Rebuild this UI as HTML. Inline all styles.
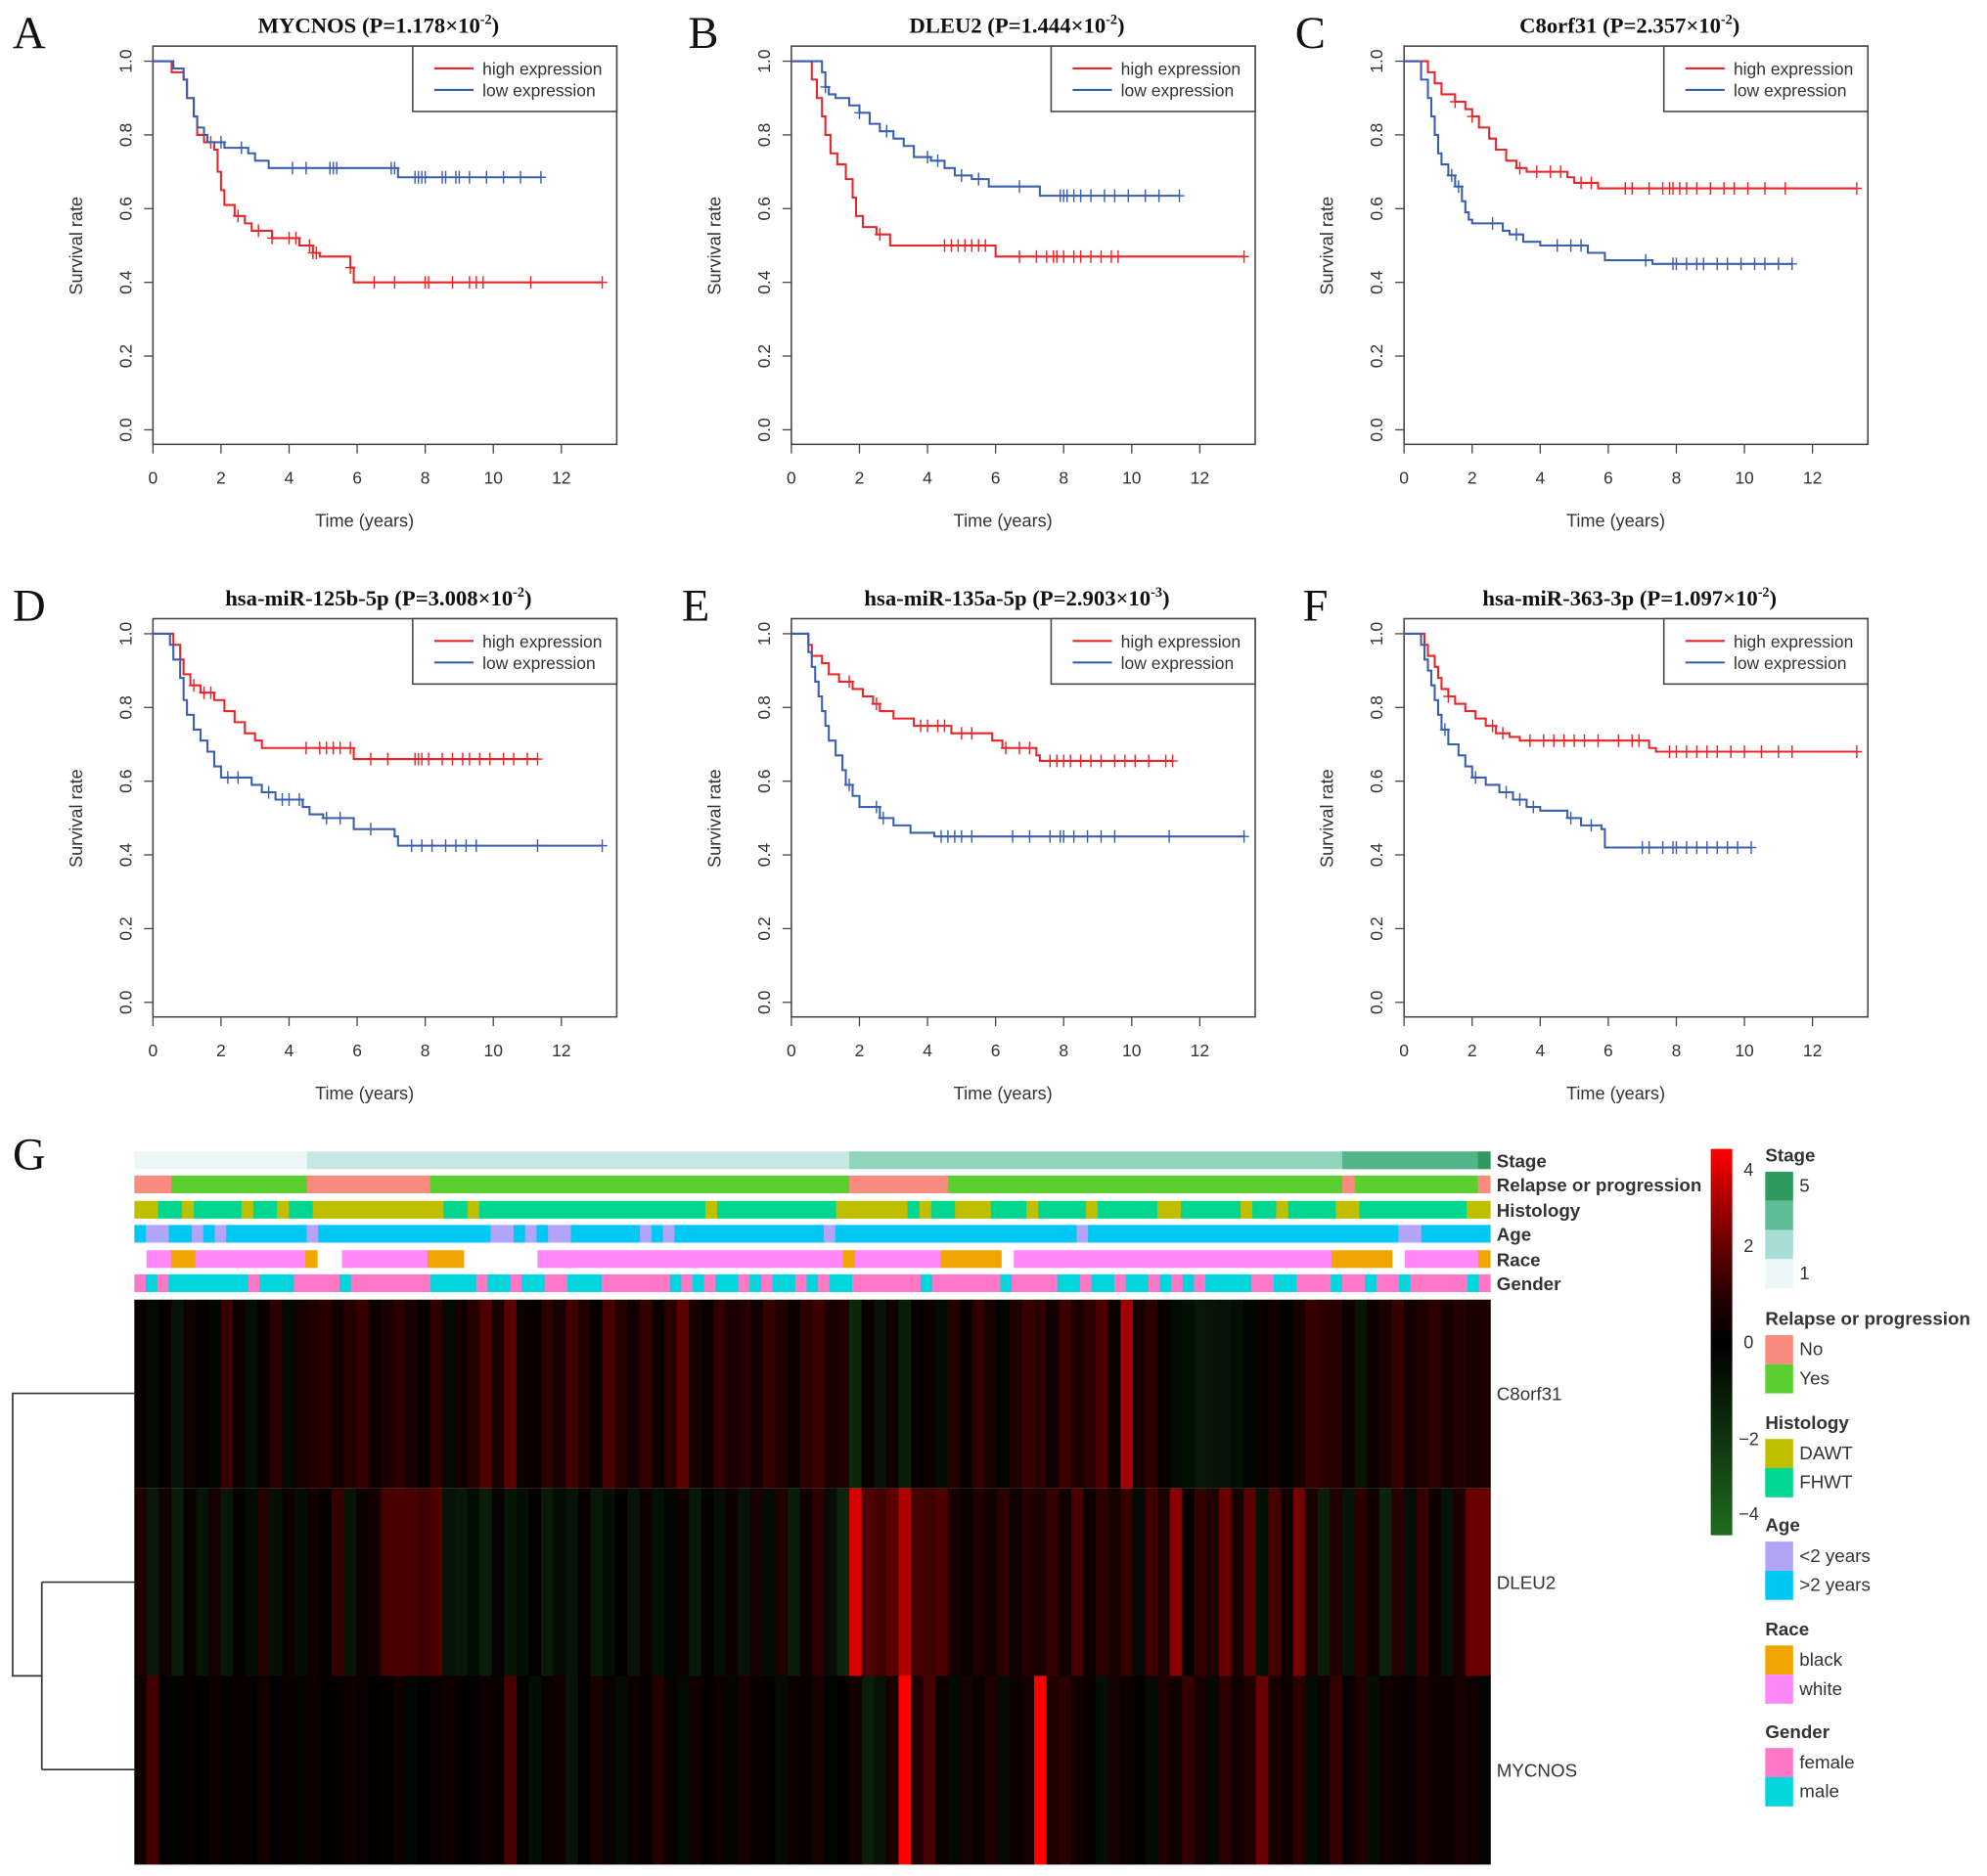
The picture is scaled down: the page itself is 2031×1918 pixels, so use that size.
<!DOCTYPE html>
<html><head><meta charset="utf-8"><style>
html,body{margin:0;padding:0;background:#fff}
svg{display:block}
.t{font-family:"Liberation Sans",sans-serif;fill:#333}
.s{font-family:"Liberation Serif",serif;fill:#111}
</style></head><body>
<svg id="fig" width="2031" height="1918" viewBox="0 0 1568 1481" preserveAspectRatio="none" xmlns="http://www.w3.org/2000/svg"></svg>
<script>
// ---------- KM data ----------
const titles=["MYCNOS","DLEU2","C8orf31","hsa-miR-125b-5p","hsa-miR-135a-5p","hsa-miR-363-3p"];
const pMant=["1.178","1.444","2.357","3.008","2.903","1.097"];
const pExp=["-2","-2","-2","-2","-3","-2"];
const letters=["A","B","C","D","E","F"];
const xTicks=[0,2,4,6,8,10,12];
const yTicks=[0,0.2,0.4,0.6,0.8,1.0];
const yTickLabels=["0.0","0.2","0.4","0.6","0.8","1.0"];
const hiT=[[0.55,0.9,1.0,1.2,1.3,1.5,1.8,1.9,2.0,2.1,2.4,2.7,2.9,3.5,4.3,4.7,4.9,5.8,5.9],
[0.5,0.6,0.75,0.9,1.0,1.15,1.35,1.6,1.8,1.9,2.1,2.5,2.9,6.0],
[0.6,0.7,0.9,1.1,1.5,1.8,2.0,2.2,2.5,2.7,3.0,3.3,3.6,4.8,5.0,5.7],
[0.6,0.8,0.9,1.1,1.4,1.8,2.1,2.4,2.7,3.0,3.2,5.9],
[0.5,0.6,0.9,1.1,1.4,1.8,2.1,2.4,2.6,3.0,3.6,4.7,5.9,6.2,7.2,7.3],
[0.6,0.7,0.9,1.0,1.1,1.3,1.5,1.8,2.1,2.4,2.7,3.1,3.4,7.2,7.4]];
const hiS=[[0.97,0.95,0.9,0.85,0.8,0.78,0.76,0.7,0.65,0.61,0.58,0.56,0.54,0.52,0.5,0.48,0.47,0.44,0.40],
[1.0,0.95,0.9,0.85,0.8,0.75,0.72,0.68,0.63,0.58,0.55,0.53,0.50,0.47],
[1.0,0.97,0.94,0.91,0.89,0.87,0.85,0.82,0.79,0.76,0.73,0.71,0.70,0.685,0.67,0.655],
[0.97,0.93,0.89,0.86,0.84,0.82,0.79,0.76,0.73,0.71,0.69,0.66],
[0.97,0.94,0.92,0.89,0.87,0.85,0.83,0.81,0.79,0.77,0.75,0.73,0.71,0.69,0.67,0.655],
[0.97,0.94,0.91,0.88,0.85,0.83,0.81,0.79,0.77,0.75,0.73,0.72,0.71,0.69,0.68]];
const hiEnd=[13.2,13.3,13.3,11.3,11.2,13.3];
const hiC=[[1.7,2.5,3.1,3.5,4.0,4.2,4.6,4.7,4.8,5.8,6.5,7.1,8,8.1,8.8,9.3,9.5,9.7,11.1,13.2],
[2.6,4.5,4.7,4.9,5.1,5.3,5.5,5.7,6.7,7.2,7.5,7.7,7.8,8,8.3,8.5,8.8,9.1,9.4,9.6,13.3],
[1.5,2.0,3.4,3.9,4.3,4.6,5.2,5.5,6.5,6.7,7.2,7.6,7.8,7.9,8.1,8.3,8.6,9.0,9.4,9.7,10.1,10.6,11.2,13.3],
[1.2,1.5,1.7,4.5,4.9,5.1,5.3,5.5,5.8,6.4,6.9,7.7,7.8,7.9,8.1,8.5,8.8,9.1,9.3,9.6,9.9,10.3,10.6,11.0,11.3],
[1.7,2.5,3.8,4.0,4.3,4.5,5.0,5.3,6.3,6.7,7.0,7.6,7.8,8.0,8.2,8.5,8.8,9.1,9.5,9.8,10.1,10.5,11.0,11.2],
[1.3,2.6,2.9,3.7,4.1,4.4,4.7,5.0,5.3,5.7,6.3,6.7,6.9,7.8,8.0,8.3,8.6,8.9,9.2,9.6,10.0,10.5,11.0,11.4,13.3]];
const loT=[[0.6,0.9,1.0,1.2,1.3,1.5,1.6,2.1,2.8,3.0,3.4,7.2],
[0.9,1.0,1.1,1.3,1.7,2.0,2.3,2.6,3.0,3.3,3.6,4.1,4.5,4.8,5.3,5.8,7.3],
[0.5,0.7,0.8,0.9,1.0,1.1,1.3,1.5,1.7,1.8,1.9,2.0,2.9,3.1,3.5,4.0,5.4,5.9,7.3,7.4],
[0.5,0.6,0.8,0.9,1.0,1.2,1.4,1.6,1.8,2.0,2.9,3.2,3.6,4.4,4.6,5.0,5.9,7.1,7.2],
[0.5,0.6,0.7,0.8,0.9,1.0,1.1,1.3,1.5,1.6,1.8,2.0,2.6,3.0,3.5,4.2],
[0.5,0.6,0.7,0.8,0.9,1.0,1.1,1.3,1.6,1.8,2.0,2.4,2.8,3.2,3.6,4.0,4.8,5.2,5.8,5.9]];
const loS=[[0.98,0.95,0.9,0.85,0.82,0.8,0.78,0.765,0.75,0.73,0.71,0.685],
[0.97,0.93,0.91,0.9,0.88,0.86,0.83,0.81,0.79,0.77,0.74,0.73,0.71,0.69,0.68,0.66,0.635],
[0.95,0.9,0.85,0.8,0.75,0.72,0.69,0.66,0.62,0.59,0.57,0.56,0.54,0.53,0.51,0.50,0.48,0.46,0.45,0.45],
[0.97,0.93,0.88,0.82,0.78,0.74,0.71,0.68,0.64,0.61,0.59,0.57,0.55,0.53,0.51,0.50,0.47,0.45,0.425],
[0.95,0.91,0.87,0.83,0.79,0.75,0.71,0.67,0.63,0.59,0.56,0.53,0.50,0.48,0.46,0.45],
[0.97,0.93,0.90,0.86,0.82,0.78,0.74,0.70,0.67,0.64,0.61,0.59,0.57,0.55,0.53,0.52,0.50,0.48,0.47,0.42]];
const loEnd=[11.4,11.4,11.4,13.2,13.3,10.2];
const loC=[[2.0,2.6,4.1,4.5,5.2,5.3,5.4,7.0,7.1,7.7,7.8,7.9,8.0,8.5,8.6,8.9,9.0,9.3,9.8,10.3,10.8,11.4],
[1.0,2.0,2.8,4.0,4.3,5.0,5.5,6.7,7.9,8.0,8.1,8.3,8.5,8.8,9.2,9.5,9.9,10.4,10.8,11.4],
[1.4,1.6,2.6,3.3,4.5,4.9,5.2,7.1,7.9,8.0,8.3,8.6,8.8,9.2,9.5,9.9,10.3,10.6,11.0,11.4],
[2.2,2.5,3.4,3.8,4.0,4.3,5.1,5.5,6.4,7.6,7.9,8.2,8.6,8.9,9.2,9.5,11.3,13.2],
[1.7,2.5,2.7,4.4,4.6,4.8,5.0,5.3,6.5,7.0,7.6,7.9,8.0,8.3,8.7,9.1,9.5,11.1,13.3],
[1.2,2.1,3.0,3.4,3.8,4.9,5.5,7.0,7.2,7.6,7.9,8.0,8.3,8.6,8.9,9.2,9.5,9.8,10.2]];
// ---------- heatmap data ----------
const genes=["C8orf31","DLEU2","MYCNOS"];
const heatC8=[0.3,-0.5,0.2,-0.8,0.5,0.2,-0.3,1.2,0.4,-0.6,0.3,1.0,-0.4,0.6,0.8,1.0,0.5,0.9,1.2,0.4,0.7,1.0,0.6,0.3,1.1,-0.5,0.5,0.9,1.6,0.6,1.8,0.4,0.3,1.0,0.6,1.4,0.8,0.3,1.5,0.9,0.5,1.2,0.4,1.0,1.8,0.6,0.3,1.1,0.7,0.9,0.5,1.2,0.8,0.4,1.0,1.3,0.6,0.8,-1.6,0.3,-0.8,0.5,-1.2,0.2,0.4,-0.5,0.9,0.3,1.1,0.6,-0.3,0.8,1.2,1.0,0.5,1.3,0.7,1.0,1.6,0.4,2.8,0.6,1.0,0.3,-0.4,-0.7,-1.0,-0.9,-0.8,-0.6,-0.3,0.3,0.5,-0.2,0.6,1.2,1.0,0.9,0.5,-0.9,0.4,0.7,1.2,0.5,0.8,1.0,0.6,0.9,0.7,0.8];
const heatDLEU2=[0.8,-1.0,0.5,-1.2,0.3,-0.8,0.6,-1.0,0.2,-0.5,0.9,-0.7,0.4,-0.6,0.5,0.2,1.2,-0.9,0.3,0.6,1.5,1.6,1.5,1.4,1.6,-0.8,-1.0,-0.5,-1.2,0.3,-0.9,-0.6,0.2,-1.1,-0.4,-0.8,0.3,-1.0,-0.6,0.2,-0.9,0.4,-0.7,-0.3,0.5,-1.0,0.2,-0.6,0.4,-0.8,0.6,-0.5,0.8,-1.2,0.5,1.0,-0.6,-1.5,3.5,1.6,1.4,1.8,3.0,1.5,1.4,1.6,0.6,0.3,0.8,0.5,1.0,0.4,0.9,0.7,1.2,0.5,1.5,0.3,1.0,0.6,1.2,-0.4,1.4,0.7,2.5,0.3,1.2,0.8,2.0,0.6,1.8,-0.7,1.5,0.4,2.2,0.6,-1.2,0.8,-0.9,1.0,0.5,-1.4,0.9,-0.6,1.2,0.4,-0.8,0.7,2.0,2.0];
const heatMYCNOS=[0.5,1.4,0.2,-0.2,0.3,0.1,0.4,-0.1,0.3,0.2,0.5,0.1,0.3,-0.2,0.4,0.2,0.1,0.5,0.3,0.0,0.2,0.4,-0.3,0.1,0.3,0.5,0.2,0.1,0.4,0.3,1.5,0.2,-0.6,0.3,0.5,-0.8,0.2,0.6,0.3,-0.5,0.4,0.2,0.9,0.3,-0.4,0.5,0.2,0.4,-0.3,0.6,0.3,0.2,-0.5,0.4,0.3,0.6,-0.3,0.2,0.5,-1.2,-0.8,0.6,4.5,0.8,1.5,0.4,-0.4,0.6,0.3,0.8,-0.5,0.4,0.6,4.5,0.8,1.0,0.5,0.3,-0.6,0.6,0.4,0.2,-0.5,0.8,0.5,1.2,0.6,-0.4,1.0,0.5,0.8,2.0,0.6,0.4,1.0,-0.5,0.5,1.2,0.3,0.8,-0.6,0.5,0.4,0.3,0.7,0.5,0.4,0.6,0.5,-0.3];
const annNames=["Stage","Relapse or progression","Histology","Age","Race","Gender"];
const annStage=[["1",14],["2",44],["3",40],["4",11],["5",1]];
const annRelapse=[["No",3],["Yes",11],["No",10],["Yes",34],["No",8],["Yes",32],["No",1],["Yes",10],["No",1]];
const annHist=[["D",2],["F",2],["D",1],["F",4],["D",1],["F",2],["D",1],["F",2],["D",11],["F",2],["D",1],["F",19],["D",1],["F",10],["D",6],["F",1],["D",1],["F",2],["D",3],["F",3],["D",1],["F",4],["D",1],["F",5],["D",2],["F",5],["D",1],["F",2],["D",1],["F",4],["D",2],["F",9],["D",2]];
const annAge=[["G",1],["L",2],["G",2],["L",1],["G",1],["L",1],["G",7],["L",1],["G",15],["L",2],["G",1],["L",1],["G",1],["L",2],["G",6],["L",1],["G",1],["L",1],["G",13],["L",1],["G",21],["L",1],["G",27],["L",2],["G",6]];
const annRace=[["N",1],["W",2],["B",2],["W",9],["B",1],["N",2],["W",7],["B",3],["N",6],["W",25],["B",1],["W",7],["B",5],["N",1],["W",26],["B",5],["N",1],["W",6],["B",1]];
const annGender=[["F",1],["M",1],["F",1],["M",7],["F",1],["M",3],["F",4],["M",1],["F",7],["M",4],["F",1],["M",2],["F",1],["M",2],["F",2],["M",3],["F",6],["M",1],["F",1],["M",1],["F",1],["M",2],["F",1],["M",1],["F",1],["M",2],["F",1],["M",1],["F",1],["M",2],["F",6],["M",1],["F",6],["M",1],["F",4],["M",2],["F",1],["M",2],["F",1],["M",2],["F",1],["M",1],["F",1],["M",1],["F",1],["M",4],["F",2],["M",2],["F",3],["M",1],["F",2],["M",1],["F",2],["M",1],["F",5],["M",1],["F",1]];
const colorbarTicks=[4,2,0,-2,-4];

const NS="http://www.w3.org/2000/svg";
const svg=document.getElementById('fig');
function mk(tag,attrs,parent,text){const e=document.createElementNS(NS,tag);for(const k in attrs)e.setAttribute(k,attrs[k]);if(text!==undefined)e.textContent=text;(parent||svg).appendChild(e);return e;}

const RED="#e8262a",BLUE="#3a5fb0";
const colX=[120.7,624.5,1108],rowY=[0,452];
const letterX=[10,543,1022,10,538,1028];
for(let p=0;p<6;p++){
  const ox=colX[p%3],oy=rowY[Math.floor(p/3)];
  const g=mk('g',{});
  
  
  const xs=t=>ox+t*(322.3/12), ys=s=>oy+48.3+(1-s)*291;
  const bx=mk('rect',{x:ox,y:oy+36.4,width:366,height:314.4,fill:'none',stroke:'#444','stroke-width':1.2},g);
  
  const lt=mk('text',{x:letterX[p],y:oy+38,class:'s','font-size':36},g,letters[p]);
  
  const tt=mk('text',{x:ox+178,y:oy+26,class:'s','font-size':17.5,'font-weight':'bold','text-anchor':'middle'},g);
  
  mk('tspan',{},tt,titles[p]+" (P="+pMant[p]+"×10");
  mk('tspan',{dy:-7,'font-size':11},tt,pExp[p]);
  mk('tspan',{dy:7},tt,")");
  xTicks.forEach(v=>{mk('line',{x1:xs(v),x2:xs(v),y1:oy+350.8,y2:oy+358,stroke:'#444'},g);
    const l=mk('text',{x:xs(v),y:oy+382,class:'t','font-size':13.5,'text-anchor':'middle'},g,String(v));
    });
  yTicks.forEach((v,i)=>{mk('line',{x1:ox,x2:ox-7,y1:ys(v),y2:ys(v),stroke:'#444'},g);
    const l=mk('text',{x:ox-17,y:ys(v),class:'t','font-size':13.5,'text-anchor':'middle',transform:`rotate(-90 ${ox-17} ${ys(v)})`},g,yTickLabels[i]);
    });
  const xl=mk('text',{x:ox+167,y:oy+416,class:'t','font-size':14,'text-anchor':'middle'},g,'Time (years)');
  
  const yl=mk('text',{x:ox-56,y:oy+194,class:'t','font-size':14,'text-anchor':'middle',transform:`rotate(-90 ${ox-56} ${oy+194})`},g,'Survival rate');
  
  const series=[[hiT[p],hiS[p],hiEnd[p],hiC[p],RED,'high'],[loT[p],loS[p],loEnd[p],loC[p],BLUE,'low']];
  series.forEach(([T,S,E,C,col,nm])=>{
    let d=`M${xs(0)},${ys(1)}`;
    T.forEach((t,i)=>{d+=` H${xs(t)} V${ys(S[i])}`;});
    d+=` H${xs(E)}`;
    const pa=mk('path',{d:d,fill:'none',stroke:col,'stroke-width':1.6},g);
    
    const surv=t=>{let s=1;T.forEach((tt,i)=>{if(tt<=t)s=S[i];});return s;};
    C.forEach(c=>{const cx=xs(c),cy=ys(surv(c));
      const m=mk('path',{d:`M${cx},${cy-5}V${cy+5}M${cx-4},${cy}H${cx+4}`,stroke:col,'stroke-width':1.1},g);
      });
  });
  const lg=mk('g',{},g);
  mk('rect',{x:ox+205,y:oy+36.4,width:161,height:51.6,fill:'#fff',stroke:'#444','stroke-width':1.2},lg);
  mk('line',{x1:ox+222,x2:ox+253,y1:oy+54,y2:oy+54,stroke:RED,'stroke-width':1.6},lg);
  mk('line',{x1:ox+222,x2:ox+253,y1:oy+71,y2:oy+71,stroke:BLUE,'stroke-width':1.6},lg);
  mk('text',{x:ox+260,y:oy+59,class:'t','font-size':13.5},lg,'high expression');
  mk('text',{x:ox+260,y:oy+76,class:'t','font-size':13.5},lg,'low expression');
}

// ---------- Panel G ----------
const gG=mk('g',{});
mk('text',{x:10,y:923,class:'s','font-size':36},gG,'G');
const HX0=106,HX1=1176;
const annColors={Stage:{"1":"#eef7f7","2":"#c6e7e4","3":"#8fd4bb","4":"#52b487","5":"#2f9a5e"},
 Relapse:{No:"#f98c7e",Yes:"#5ccf30"},Hist:{D:"#bfbf00",F:"#00d690"},Age:{L:"#b2a4f7",G:"#00c8f5"},
 Race:{N:"#ffffff",W:"#ff88f8",B:"#f1a500"},Gender:{F:"#ff78c8",M:"#00d6dc"}};
const annRows=[[annStage,annColors.Stage,909],[annRelapse,annColors.Relapse,928],[annHist,annColors.Hist,948],[annAge,annColors.Age,967],[annRace,annColors.Race,987],[annGender,annColors.Gender,1006]];
annRows.forEach(([runs,cmap,y],ri)=>{
  const tot=runs.reduce((a,r)=>a+r[1],0);let c=0;
  const rg=mk('g',{},gG);
  runs.forEach(([k,n])=>{const x=HX0+c/tot*(HX1-HX0),w=n/tot*(HX1-HX0);
    const r=mk('rect',{x:x,y:y,width:w+0.3,height:14,fill:cmap[k]},rg);
    c+=n;});
  const l=mk('text',{x:1181,y:y+12.5,class:'t','font-size':14.5,'font-weight':'bold',fill:'#222'},gG,annNames[ri]);
  
});
function hcol(v){v=Math.max(-4,Math.min(4,v));
  if(v>=0){const t=v/4;return `rgb(${Math.round(255*Math.pow(t,1.3))},0,0)`;}
  const t=-v/4;return `rgb(${Math.round(30*t)},${Math.round(110*Math.pow(t,1.1))},${Math.round(30*t)})`;}
const heatRows=[heatC8,heatDLEU2,heatMYCNOS];
const HY=[1026,1175,1323],HH=149;
heatRows.forEach((row,ri)=>{
  const w=(HX1-HX0)/row.length;
  const rg=mk('g',{},gG);
  row.forEach((v,i)=>{const r=mk('rect',{x:HX0+i*w,y:HY[ri],width:w+0.4,height:HH,fill:hcol(v)},rg);
    });
  const l=mk('text',{x:1181,y:HY[ri]+HH/2+5,class:'t','font-size':14.5,fill:'#222'},gG,genes[ri]);
  
});
const dg=mk('path',{d:'M106,1100H10V1323H33M33,1249V1397M33,1249H106M33,1397H106',fill:'none',stroke:'#333','stroke-width':1.3},gG);

const defs=mk('defs',{});
const grad=mk('linearGradient',{id:'cb',x1:0,y1:0,x2:0,y2:1},defs);
[[0,4],[0.125,3],[0.25,2],[0.375,1],[0.5,0],[0.625,-1],[0.75,-2],[0.875,-3],[1,-4]].forEach(([o,v])=>mk('stop',{offset:o,'stop-color':hcol(v)},grad));
const cbar=mk('rect',{x:1350,y:907,width:17,height:305,fill:'url(#cb)'},gG);

colorbarTicks.forEach(v=>{const y=907+(4-v)/8*305;
  const l=mk('text',{x:v<0?1372:1376,y:y+(v===4?21:v===-4?-12:5),class:'t','font-size':14},gG,v<0?'−'+(-v):String(v));
  });
const legend=[["Stage",917,[["#2f9a5e","5"],["#5fbc95",""],["#a9ddd8",""],["#eef7f7","1"]]],
["Relapse or progression",1046,[["#f98c7e","No"],["#5ccf30","Yes"]]],
["Histology",1128,[["#bfbf00","DAWT"],["#00d690","FHWT"]]],
["Age",1209,[["#b2a4f7","<2 years"],["#00c8f5",">2 years"]]],
["Race",1291,[["#f1a500","black"],["#ff88f8","white"]]],
["Gender",1372,[["#ff78c8","female"],["#00d6dc","male"]]]];
legend.forEach(([t,y,items])=>{
  const lg=mk('g',{},gG);
  mk('text',{x:1393,y:y,class:'t','font-size':14.5,'font-weight':'bold',fill:'#222'},lg,t);
  items.forEach(([c,lab],i)=>{const yy=y+8+i*23;
    mk('rect',{x:1393,y:yy,width:22,height:23,fill:c},lg);
    if(lab)mk('text',{x:1420,y:yy+16,class:'t','font-size':14.5,fill:'#222'},lg,lab);});
});
</script>
</body></html>
